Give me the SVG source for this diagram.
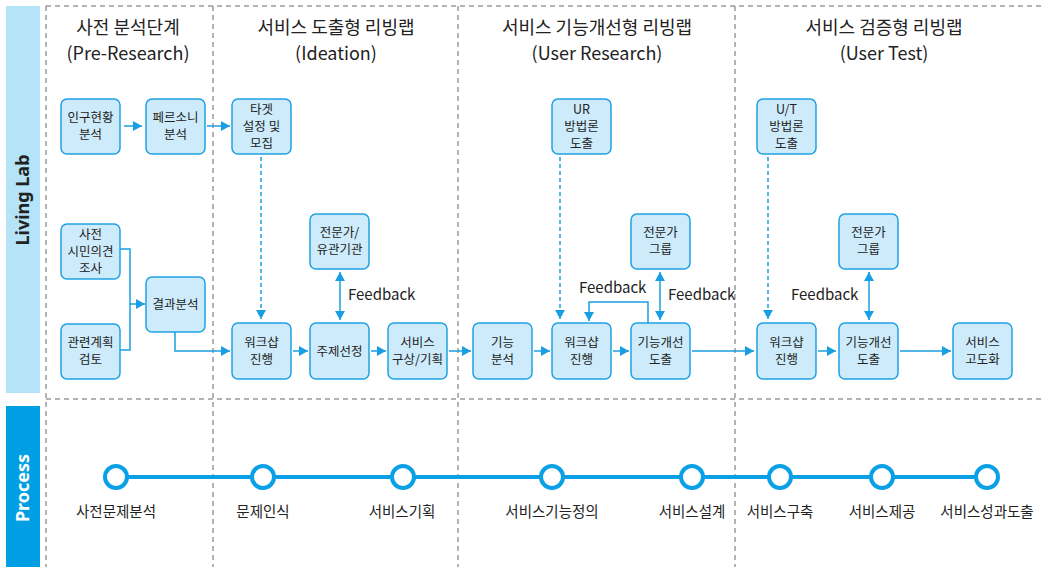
<svg xmlns="http://www.w3.org/2000/svg" width="1042" height="568" viewBox="0 0 1042 568">
<defs>
<style>
.frame{stroke:#9a9a9a;stroke-width:1.5;stroke-dasharray:5 4;fill:none}
.node rect{fill:#cdebfa;stroke:#1fa2e4;stroke-width:1.5}
.node text,.nt{font-family:"Noto Sans CJK KR","Noto Sans",sans-serif;font-size:12.5px;fill:#222;text-anchor:middle}
.title{font-family:"Noto Sans CJK KR","Noto Sans",sans-serif;font-size:18px;fill:#222;text-anchor:middle}
.lbl{font-family:"Noto Sans CJK KR","Noto Sans",sans-serif;font-size:15px;fill:#222}
.plbl{font-family:"Noto Sans CJK KR","Noto Sans",sans-serif;font-size:14.5px;fill:#222;text-anchor:middle}
.c{stroke:#1a9ee2;stroke-width:1.5;fill:none}
.a{marker-end:url(#ah)}
.d{stroke-dasharray:4 3}
.b{marker-start:url(#ah);marker-end:url(#ah)}
</style>
<marker id="ah" markerUnits="userSpaceOnUse" markerWidth="10" markerHeight="10" refX="9" refY="5" orient="auto-start-reverse"><path d="M0,0 L9,5 L0,10 z" fill="#1a9ee2"/></marker>
</defs>
<rect width="1042" height="568" fill="#fff"/>
<g id="sidebars">
<rect x="6" y="6" width="34" height="387" fill="#b5e3f8"/>
<rect x="6" y="406" width="34" height="161" fill="#009fe3"/>
<text transform="translate(29,200) rotate(-90)" text-anchor="middle" font-family="'Noto Sans','Liberation Sans',sans-serif" font-size="18" font-weight="bold" fill="#222">Living Lab</text>
<text transform="translate(29,488) rotate(-90)" text-anchor="middle" font-family="'Noto Sans','Liberation Sans',sans-serif" font-size="18" font-weight="bold" fill="#fff">Process</text>
</g>
<g id="frame">
<path class="frame" d="M46,6 H1042 M46,399 H1042 M46,6 V567 M213,6 V567 M458,6 V567 M735,6 V567"/>
</g>
<g id="titles">
<text class="title" x="128" y="34">사전 분석단계</text>
<text class="title" x="128" y="60">(Pre-Research)</text>
<text class="title" x="336" y="34">서비스 도출형 리빙랩</text>
<text class="title" x="336" y="60">(Ideation)</text>
<text class="title" x="597" y="34">서비스 기능개선형 리빙랩</text>
<text class="title" x="597" y="60">(User Research)</text>
<text class="title" x="884" y="34">서비스 검증형 리빙랩</text>
<text class="title" x="884" y="60">(User Test)</text>
</g>
<g id="n1" class="node"><rect x="61" y="99" width="59" height="55" rx="6"/><text x="90.5" y="122">인구현황</text><text x="90.5" y="139">분석</text></g>
<g id="n2" class="node"><rect x="146" y="99" width="59" height="55" rx="6"/><text x="175.5" y="122">페르소니</text><text x="175.5" y="139">분석</text></g>
<g id="n3" class="node"><rect x="232" y="99" width="59" height="55" rx="6"/><text x="261.5" y="114">타겟</text><text x="261.5" y="131">설정 및</text><text x="261.5" y="148">모집</text></g>
<g id="n4" class="node"><rect x="61" y="224" width="59" height="55" rx="6"/><text x="90.5" y="239">사전</text><text x="90.5" y="256">시민의견</text><text x="90.5" y="273">조사</text></g>
<g id="n5" class="node"><rect x="61" y="324" width="59" height="55" rx="6"/><text x="90.5" y="347">관련계획</text><text x="90.5" y="364">검토</text></g>
<g id="n6" class="node"><rect x="146" y="277" width="59" height="55" rx="6"/><text x="175.5" y="309">결과분석</text></g>
<g id="n7" class="node"><rect x="232" y="323" width="59" height="56" rx="6"/><text x="261.5" y="347">워크샵</text><text x="261.5" y="364">진행</text></g>
<g id="n8" class="node"><rect x="310" y="323" width="59" height="56" rx="6"/><text x="339.5" y="356">주제선정</text></g>
<g id="n9" class="node"><rect x="310" y="214" width="59" height="55" rx="6"/><text x="339.5" y="237">전문가/</text><text x="339.5" y="254">유관기관</text></g>
<g id="n10" class="node"><rect x="388" y="323" width="59" height="56" rx="6"/><text x="417.5" y="347">서비스</text><text x="417.5" y="364">구상/기획</text></g>
<g id="n11" class="node"><rect x="473" y="323" width="59" height="56" rx="6"/><text x="502.5" y="347">기능</text><text x="502.5" y="364">분석</text></g>
<g id="n12" class="node"><rect x="552" y="99" width="59" height="55" rx="6"/><text x="581.5" y="114">UR</text><text x="581.5" y="131">방법론</text><text x="581.5" y="148">도출</text></g>
<g id="n13" class="node"><rect x="552" y="323" width="59" height="56" rx="6"/><text x="581.5" y="347">워크샵</text><text x="581.5" y="364">진행</text></g>
<g id="n14" class="node"><rect x="631" y="214" width="59" height="55" rx="6"/><text x="660.5" y="237">전문가</text><text x="660.5" y="254">그룹</text></g>
<g id="n15" class="node"><rect x="631" y="323" width="59" height="56" rx="6"/><text x="660.5" y="347">기능개선</text><text x="660.5" y="364">도출</text></g>
<g id="n16" class="node"><rect x="757" y="99" width="59" height="55" rx="6"/><text x="786.5" y="114">U/T</text><text x="786.5" y="131">방법론</text><text x="786.5" y="148">도출</text></g>
<g id="n17" class="node"><rect x="757" y="323" width="59" height="56" rx="6"/><text x="786.5" y="347">워크샵</text><text x="786.5" y="364">진행</text></g>
<g id="n18" class="node"><rect x="839" y="214" width="59" height="55" rx="6"/><text x="868.5" y="237">전문가</text><text x="868.5" y="254">그룹</text></g>
<g id="n19" class="node"><rect x="839" y="323" width="59" height="56" rx="6"/><text x="868.5" y="347">기능개선</text><text x="868.5" y="364">도출</text></g>
<g id="n20" class="node"><rect x="953" y="323" width="59" height="56" rx="6"/><text x="982.5" y="347">서비스</text><text x="982.5" y="364">고도화</text></g>
<g id="connectors">
<path class="c a" d="M124,126 H142"/>
<path class="c a" d="M207,126 H230"/>
<path class="c" d="M120,249 H130 V350 H120"/>
<path class="c a" d="M130,304 H145"/>
<path class="c a" d="M175,332 V351 H230"/>
<path class="c a d" d="M261,157 V319"/>
<path class="c a" d="M293,351 H308"/>
<path class="c a" d="M371,351 H386"/>
<path class="c b" d="M340,272 V320"/>
<path class="c a" d="M449,351 H471"/>
<path class="c a" d="M534,351 H550"/>
<path class="c a d" d="M560,157 V319"/>
<path class="c a" d="M613,351 H629"/>
<path class="c a" d="M648,323 V302 H589 V321"/>
<path class="c b" d="M660,272 V320"/>
<path class="c a" d="M692,351 H754"/>
<path class="c a d" d="M768,157 V319"/>
<path class="c a" d="M818,351 H836"/>
<path class="c b" d="M869,272 V320"/>
<path class="c a" d="M900,351 H951"/>
<text class="lbl" x="348" y="300">Feedback</text>
<text class="lbl" x="579" y="293">Feedback</text>
<text class="lbl" x="668" y="300">Feedback</text>
<text class="lbl" x="791" y="300">Feedback</text>
</g>
<g id="process">
<line x1="116" y1="477" x2="987" y2="477" stroke="#0aa0e6" stroke-width="4"/>
<g fill="#fff" stroke="#0aa0e6" stroke-width="4">
<circle cx="116" cy="477" r="11"/>
<circle cx="263" cy="477" r="11"/>
<circle cx="403" cy="477" r="11"/>
<circle cx="552" cy="477" r="11"/>
<circle cx="692" cy="477" r="11"/>
<circle cx="780" cy="477" r="11"/>
<circle cx="882" cy="477" r="11"/>
<circle cx="987" cy="477" r="11"/>
</g>
<text class="plbl" x="116" y="517">사전문제분석</text>
<text class="plbl" x="263" y="517">문제인식</text>
<text class="plbl" x="402" y="517">서비스기획</text>
<text class="plbl" x="552" y="517">서비스기능정의</text>
<text class="plbl" x="692" y="517">서비스설계</text>
<text class="plbl" x="780" y="517">서비스구축</text>
<text class="plbl" x="882" y="517">서비스제공</text>
<text class="plbl" x="987" y="517">서비스성과도출</text>
</g>
</svg>
